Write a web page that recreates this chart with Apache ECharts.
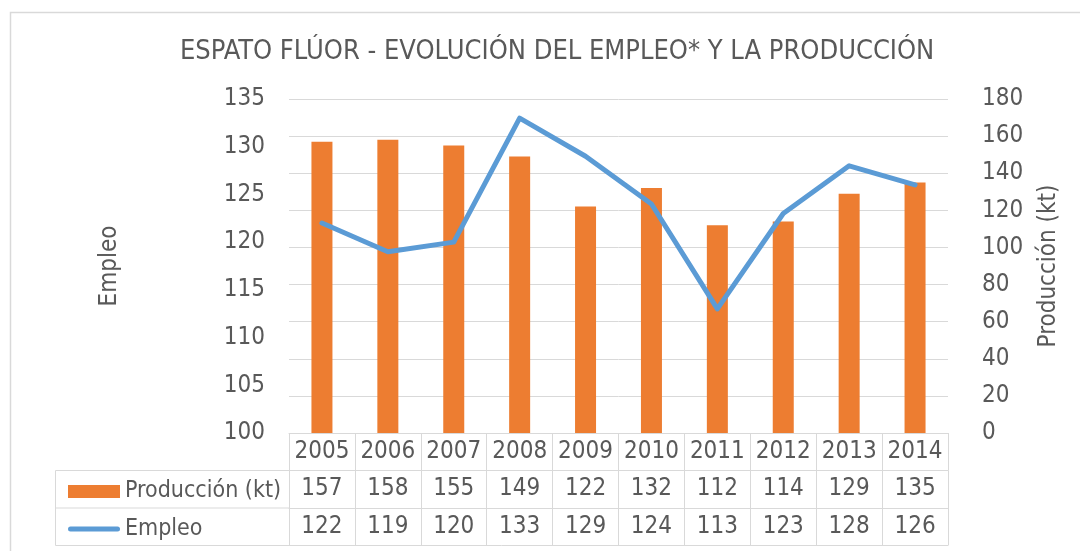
<!DOCTYPE html>
<html>
<head>
<meta charset="utf-8">
<script src="https://cdn.jsdelivr.net/npm/echarts@6/dist/echarts.min.js"></script>
<style>
html,body{margin:0;padding:0;background:#fff;}
#chart{width:1080px;height:551px;}
</style>
</head>
<body>
<div id="chart"></div>
<script>
// datos
var years = ['2005','2006','2007','2008','2009','2010','2011','2012','2013','2014'];
var produccion = [157, 158, 155, 149, 122, 132, 112, 114, 129, 135];
var empleo = [122, 119, 120, 133, 129, 124, 113, 123, 128, 126];
var leftTicks = {min: 100, max: 135, interval: 5};
var rightTicks = {min: 0, max: 180, interval: 20};

var font = '"DejaVu Sans Condensed", "DejaVu Sans", sans-serif';
var txt = '#595959';
var line = '#d9d9d9';
var rowH = 37.5;
var fs = 24;

var myChart = echarts.init(document.getElementById('chart'));

// eje x de la tabla: una fila por eje
function tableAxis(offset, formatter) {
    return {
        type: 'category',
        data: years,
        position: 'bottom',
        offset: offset,
        boundaryGap: true,
        axisLine: {show: true, lineStyle: {color: line, width: 1}},
        axisTick: {show: true, interval: 0, length: rowH, inside: false, lineStyle: {color: line, width: 1}},
        axisLabel: {
            interval: 0, margin: rowH / 2, verticalAlign: 'middle',
            color: txt, fontSize: fs, fontFamily: font,
            formatter: formatter
        },
        splitLine: {show: false}
    };
}

var option = {
    animation: false,
    title: {
        text: 'ESPATO FLÚOR - EVOLUCIÓN DEL EMPLEO* Y LA PRODUCCIÓN',
        left: 175, top: 33,
        textStyle: {color: txt, fontSize: 27, fontWeight: 'normal', fontFamily: font}
    },
    legend: {
        orient: 'vertical',
        left: 63, top: 475,
        itemWidth: 52, itemHeight: 13,
        itemGap: rowH - 23,
        textStyle: {color: txt, fontSize: 23, fontFamily: font, lineHeight: 23},
        data: [
            {name: 'Producción (kt)', icon: 'rect'},
            {name: 'Empleo', icon: 'path://M2.5,0 H49.5 A2.5,2.5 0 0 1 49.5,5 H2.5 A2.5,2.5 0 0 1 2.5,0 Z'}
        ]
    },
    grid: {left: 289, right: 132, top: 99, bottom: 118, containLabel: false, outerBoundsMode: 'none'},
    xAxis: [
        tableAxis(0, null),
        tableAxis(rowH, function (v, i) { return String(produccion[i]); }),
        tableAxis(rowH * 2, function (v, i) { return String(empleo[i]); })
    ],
    yAxis: [
        {
            type: 'value', name: 'Empleo', nameLocation: 'middle', nameRotate: 90, nameGap: 167,
            nameTextStyle: {color: txt, fontSize: fs, fontFamily: font},
            min: leftTicks.min, max: leftTicks.max, interval: leftTicks.interval,
            axisLine: {show: false}, axisTick: {show: false}, splitLine: {show: false},
            axisLabel: {color: txt, fontSize: fs, fontFamily: font, margin: 24}
        },
        {
            type: 'value', name: 'Producción (kt)', nameLocation: 'middle', nameRotate: 90, nameGap: 89,
            nameTextStyle: {color: txt, fontSize: fs, fontFamily: font},
            min: rightTicks.min, max: rightTicks.max, interval: rightTicks.interval,
            axisLine: {show: false}, axisTick: {show: false},
            splitLine: {show: true, lineStyle: {color: line, width: 1}},
            axisLabel: {color: txt, fontSize: fs, fontFamily: font, margin: 34}
        }
    ],
    series: [
        {
            name: 'Producción (kt)', type: 'bar', xAxisIndex: 0, yAxisIndex: 1,
            barWidth: 21, itemStyle: {color: '#ed7d31'},
            data: produccion
        },
        {
            name: 'Empleo', type: 'line', xAxisIndex: 0, yAxisIndex: 0,
            symbol: 'none', z: 5,
            lineStyle: {color: '#5b9bd5', width: 5, cap: 'round', join: 'round'},
            itemStyle: {color: '#5b9bd5'},
            data: empleo
        }
    ],
    // marco exterior y celdas de la leyenda
    graphic: [
        {type: 'rect', shape: {x: 10.5, y: 12.5, width: 1100, height: 600}, style: {fill: 'none', stroke: line, lineWidth: 1.5}, silent: true},
        {type: 'polyline', shape: {points: [[289, 433 + rowH], [55.5, 433 + rowH], [55.5, 433 + rowH * 3], [948, 433 + rowH * 3]]}, style: {fill: 'none', stroke: line, lineWidth: 1}, silent: true},
        {type: 'line', shape: {x1: 55.5, y1: 433 + rowH * 2, x2: 289, y2: 433 + rowH * 2}, style: {stroke: line, lineWidth: 1}, silent: true}
    ]
};
myChart.setOption(option);
</script>
</body>
</html>
